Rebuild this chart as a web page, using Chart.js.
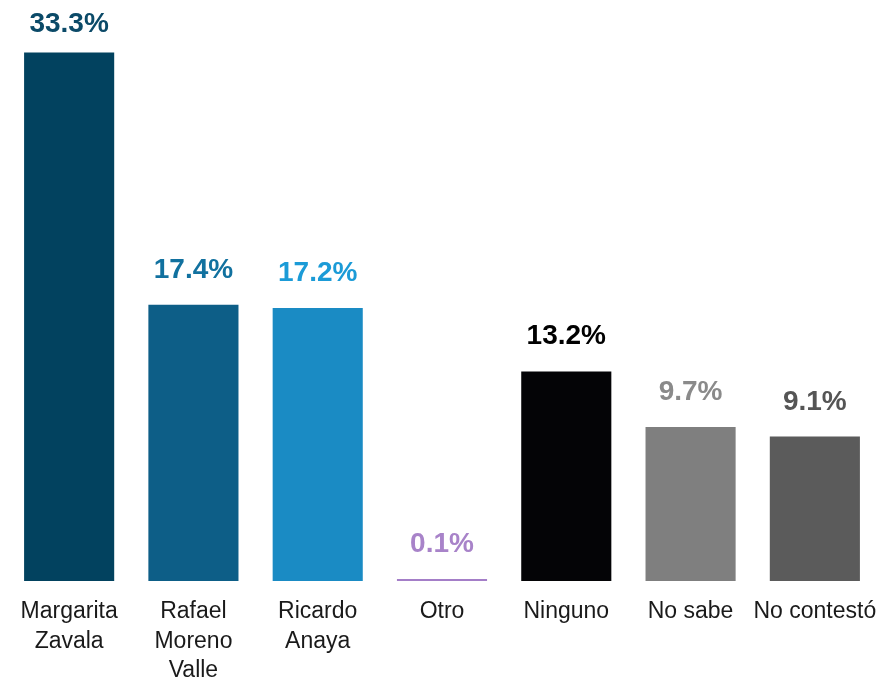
<!DOCTYPE html>
<html lang="es">
<head>
  <meta charset="UTF-8" />
  <title>Encuesta</title>
  <script src="https://cdn.jsdelivr.net/npm/chart.js"></script>
  <style>
    html, body { margin: 0; padding: 0; background: #fff; }
    #wrap { width: 891px; height: 681px; }
  </style>
</head>
<body>
  <div id="wrap"><canvas id="chart" width="891" height="681"></canvas></div>

  <script>
    // datos
    const categories = [
      ['Margarita', 'Zavala'],
      ['Rafael', 'Moreno', 'Valle'],
      ['Ricardo', 'Anaya'],
      'Otro',
      'Ninguno',
      'No sabe',
      'No contestó'
    ];
    const values = [33.3, 17.4, 17.2, 0.1, 13.2, 9.7, 9.1];
    const barColors = ['#02425f', '#0d5e87', '#1a8bc4', '#a47ec8', '#040406', '#7f7f7f', '#5b5b5b'];
    const labelColors = ['#0b4a68', '#11719f', '#1b9bd7', '#a883c9', '#000000', '#8a8a8a', '#555555'];

    // etiquetas de valor encima de cada barra
    const valueLabels = {
      id: 'valueLabels',
      afterDatasetsDraw(chart) {
        const { ctx } = chart;
        const meta = chart.getDatasetMeta(0);
        ctx.save();
        ctx.font = 'bold 28px "Liberation Sans", Arial, sans-serif';
        ctx.textAlign = 'center';
        ctx.textBaseline = 'alphabetic';
        meta.data.forEach((bar, i) => {
          ctx.fillStyle = labelColors[i];
          const y = Math.max(bar.y - 27, 32);
          ctx.fillText(values[i].toFixed(1) + '%', bar.x, y);
        });
        ctx.restore();
      }
    };

    new Chart(document.getElementById('chart'), {
      type: 'bar',
      data: {
        labels: categories,
        datasets: [{
          data: values,
          backgroundColor: barColors,
          barPercentage: 0.725,
          categoryPercentage: 1,
          minBarLength: 2
        }]
      },
      options: {
        responsive: false,
        animation: false,
        layout: { padding: { left: 7, right: 14, top: 0, bottom: 0 } },
        plugins: {
          legend: { display: false },
          tooltip: { enabled: false }
        },
        scales: {
          x: {
            grid: { display: false },
            border: { display: false },
            afterFit(scale) { scale.height = 100; },
            ticks: {
              color: '#1a1a1a',
              padding: 8,
              maxRotation: 0,
              autoSkip: false,
              font: { family: '"Liberation Sans", Arial, sans-serif', size: 23, lineHeight: 1.28 }
            }
          },
          y: {
            display: false,
            min: 0,
            max: 36.6
          }
        }
      },
      plugins: [valueLabels]
    });
  </script>
</body>
</html>
